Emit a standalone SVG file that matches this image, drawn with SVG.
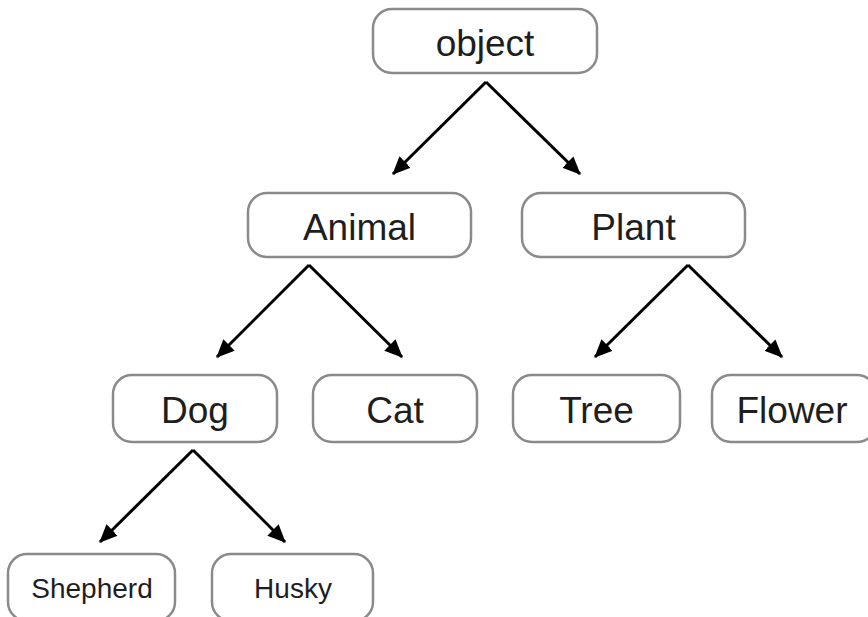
<svg xmlns="http://www.w3.org/2000/svg" width="868" height="617" viewBox="0 0 868 617">
<defs>
<style>
.box{fill:#fff;stroke:#8a8a8a;stroke-width:2.5}
.lbl{font-family:"Liberation Sans",Arial,sans-serif;font-size:37px;fill:#1e1e1e;text-anchor:middle}
.sm{font-size:28px}
.edge{stroke:#000;stroke-width:3;fill:none;marker-end:url(#ah)}
</style>
<marker id="ah" markerUnits="userSpaceOnUse" markerWidth="18" markerHeight="16" viewBox="0 0 18 16" refX="17" refY="8" orient="auto">
<path d="M0,0 L18,8 L0,16 Z" fill="#000"/>
</marker>
</defs>
<rect width="868" height="617" fill="#fff"/>
<g id="connectors">
<line class="edge" x1="486" y1="82" x2="393" y2="174"/>
<line class="edge" x1="486" y1="82" x2="580" y2="174"/>
<line class="edge" x1="309" y1="265" x2="217" y2="357"/>
<line class="edge" x1="309" y1="265" x2="402" y2="357"/>
<line class="edge" x1="688" y1="265" x2="595" y2="357"/>
<line class="edge" x1="688" y1="265" x2="782" y2="357"/>
<line class="edge" x1="193" y1="450" x2="100" y2="542"/>
<line class="edge" x1="193" y1="450" x2="285" y2="542"/>
</g>
<g id="object"><rect class="box" x="373" y="9" width="224" height="64" rx="19"/><text class="lbl" x="485" y="56">object</text></g>
<g id="animal"><rect class="box" x="248" y="193" width="223" height="64" rx="19"/><text class="lbl" x="359.5" y="240">Animal</text></g>
<g id="plant"><rect class="box" x="522" y="193" width="223" height="64" rx="19"/><text class="lbl" x="633.5" y="240">Plant</text></g>
<g id="dog"><rect class="box" x="113" y="375" width="164" height="67" rx="19"/><text class="lbl" x="195" y="423">Dog</text></g>
<g id="cat"><rect class="box" x="313" y="375" width="164" height="67" rx="19"/><text class="lbl" x="395" y="423">Cat</text></g>
<g id="tree"><rect class="box" x="513" y="375" width="167" height="67" rx="19"/><text class="lbl" x="596.5" y="423">Tree</text></g>
<g id="flower"><rect class="box" x="712" y="375" width="164" height="67" rx="19"/><text class="lbl" x="792" y="423">Flower</text></g>
<g id="shepherd"><rect class="box" x="8" y="554" width="167" height="67" rx="19"/><text class="lbl sm" x="92" y="598">Shepherd</text></g>
<g id="husky"><rect class="box" x="212" y="554" width="161" height="67" rx="19"/><text class="lbl sm" x="293" y="598">Husky</text></g>
</svg>
